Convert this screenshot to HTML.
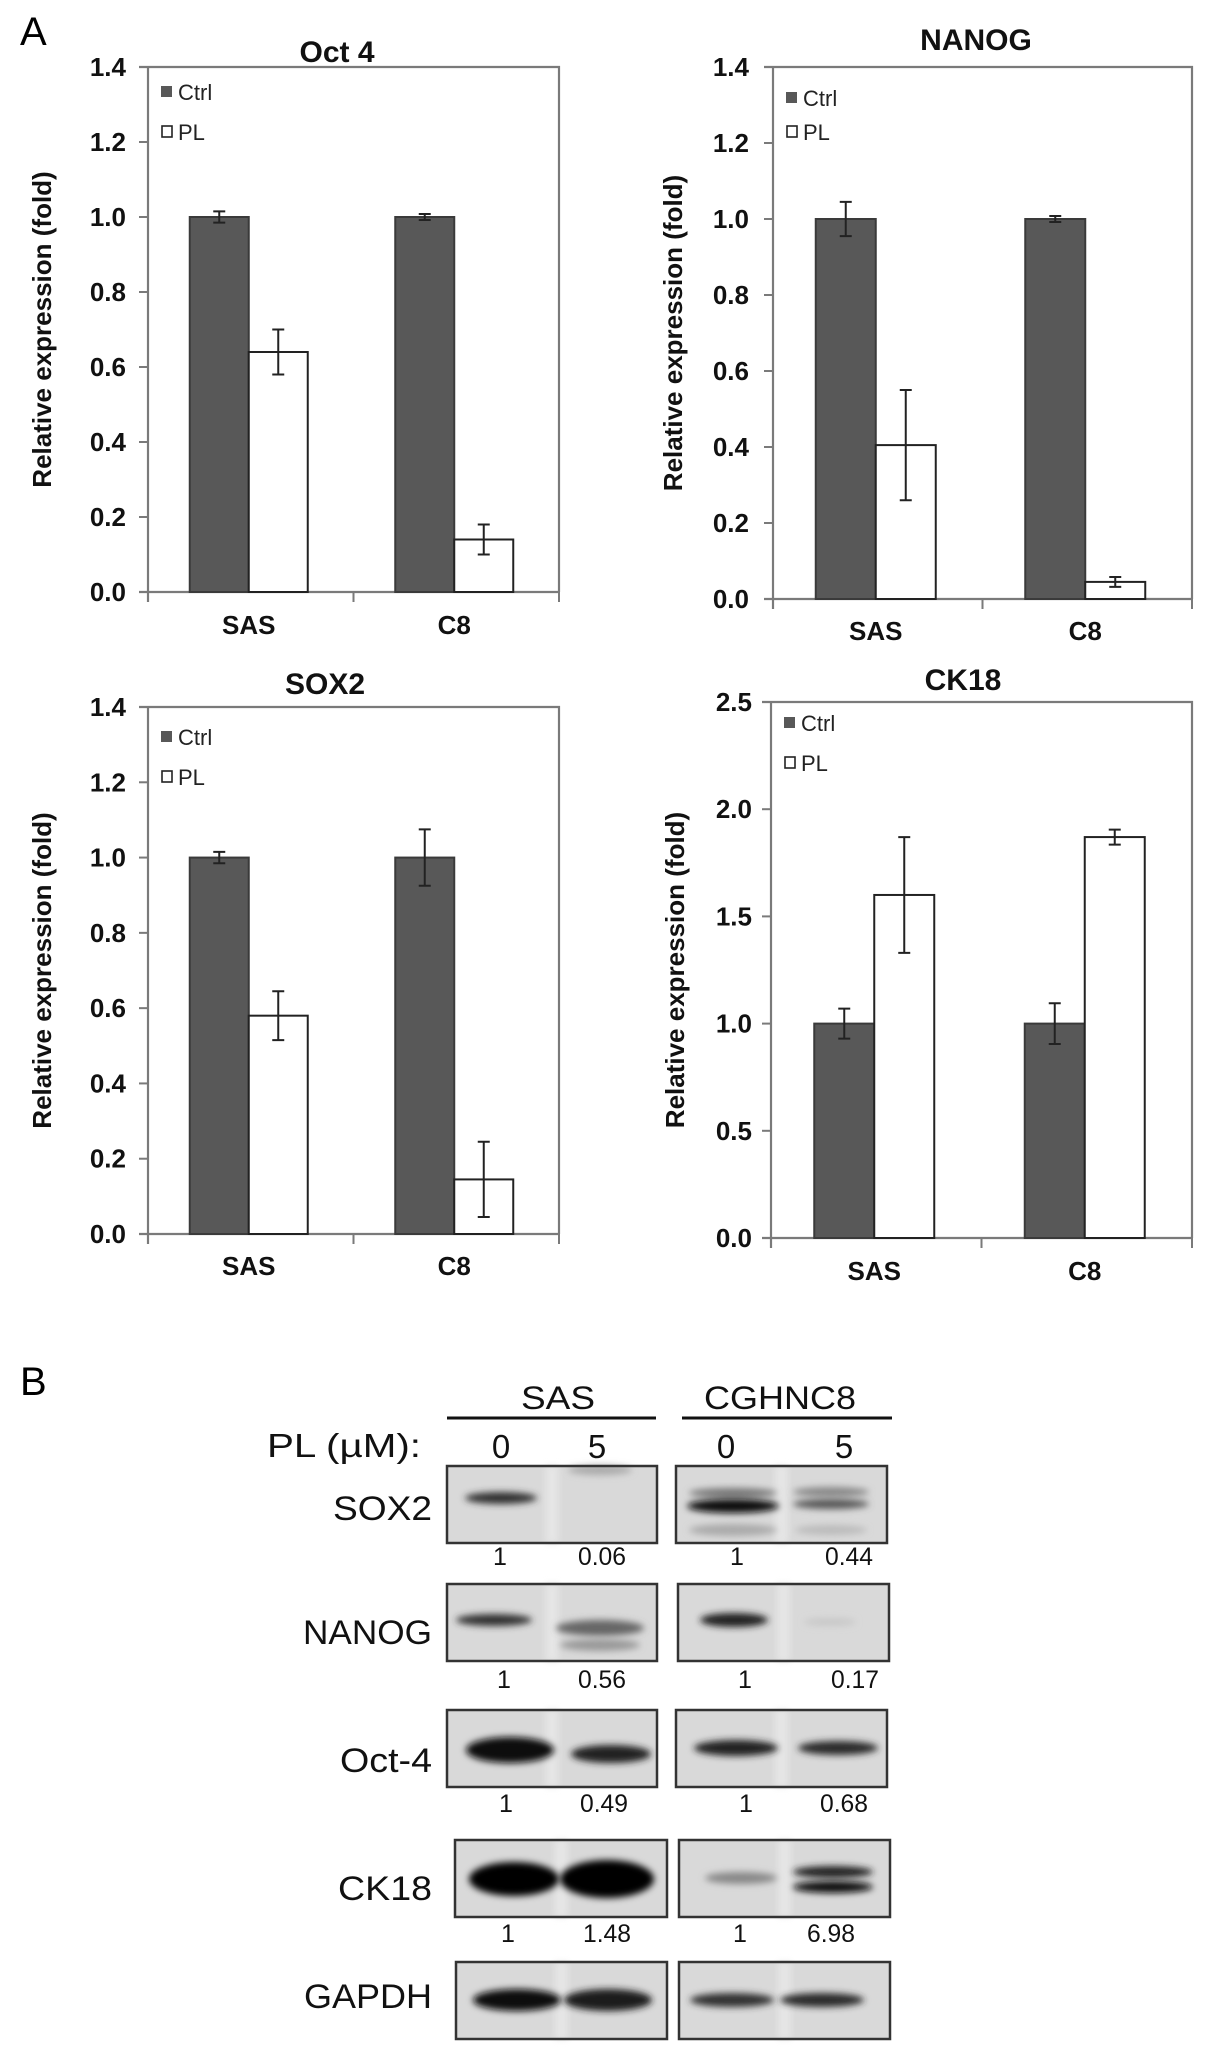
<!DOCTYPE html>
<html><head><meta charset="utf-8">
<style>
html,body{margin:0;padding:0;background:#fff;}
svg{display:block;font-family:"Liberation Sans",Arial,sans-serif;}
</style></head>
<body>
<svg id="fig" width="1205" height="2050" viewBox="0 0 1205 2050" xmlns="http://www.w3.org/2000/svg">
<defs>
<filter id="blur4" x="-30%" y="-100%" width="160%" height="300%"><feGaussianBlur stdDeviation="3.5"/></filter>
<filter id="blur2" x="-30%" y="-100%" width="160%" height="300%"><feGaussianBlur stdDeviation="2"/></filter>
</defs>
<text x="20" y="45" font-size="40">A</text>
<text x="20" y="1395" font-size="40">B</text>
<g id="charts"></g>
<g id="blots"></g>
</svg>
<script>
// ---- Chart data ----
const categories = ["SAS", "C8"];
const oct4Ctrl = [1.0, 1.0];
const oct4CtrlErr = [0.015, 0.008];
const oct4PL = [0.64, 0.14];
const oct4PLErr = [0.06, 0.04];
const oct4Ticks = ["0.0","0.2","0.4","0.6","0.8","1.0","1.2","1.4"];

const nanogCtrl = [1.0, 1.0];
const nanogCtrlErr = [0.045, 0.008];
const nanogPL = [0.405, 0.045];
const nanogPLErr = [0.145, 0.013];
const nanogTicks = ["0.0","0.2","0.4","0.6","0.8","1.0","1.2","1.4"];

const sox2Ctrl = [1.0, 1.0];
const sox2CtrlErr = [0.015, 0.075];
const sox2PL = [0.58, 0.145];
const sox2PLErr = [0.065, 0.1];
const sox2Ticks = ["0.0","0.2","0.4","0.6","0.8","1.0","1.2","1.4"];

const ck18Ctrl = [1.0, 1.0];
const ck18CtrlErr = [0.07, 0.095];
const ck18PL = [1.6, 1.87];
const ck18PLErr = [0.27, 0.035];
const ck18Ticks = ["0.0","0.5","1.0","1.5","2.0","2.5"];

const blotProteins = ["SOX2","NANOG","Oct-4","CK18"];
const sasQuant = [["1","0.06"],["1","0.56"],["1","0.49"],["1","1.48"]];
const c8Quant = [["1","0.44"],["1","0.17"],["1","0.68"],["1","6.98"]];

const NS = "http://www.w3.org/2000/svg";
function mk(parent, tag, attrs, text){
  const e = document.createElementNS(NS, tag);
  for (const k in attrs) e.setAttribute(k, attrs[k]);
  if (text !== undefined) e.textContent = text;
  parent.appendChild(e);
  return e;
}

function drawChart(cfg){
  const g = mk(document.getElementById("charts"), "g", {});
  
  
  const L=cfg.left, R=cfg.right, T=cfg.top, B=cfg.bottom;
  const ymax = parseFloat(cfg.ticks[cfg.ticks.length-1]);
  const y = v => B - (v/ymax)*(B-T);
  const axisCol = "#7a7a7a";
  const frame = mk(g, "path", {d:`M${L-9},${T} H${R} V${B} M${L},${T} V${B+10} M${L-9},${B} H${R}`, stroke:axisCol, "stroke-width":2.2, fill:"none"});
  
  
  cfg.ticks.forEach(t => {
    const yy = y(parseFloat(t));
    const tk = mk(g, "line", {x1:L-9, x2:L, y1:yy, y2:yy, stroke:axisCol, "stroke-width":2});
    
    
    const tl = mk(g, "text", {x:cfg.tickRight, y:yy+9, "font-size":26, "font-weight":"bold", "text-anchor":"end", fill:"#111"}, t);
    
    
  });
  const gw = (R-L)/categories.length;
  for (let i=1;i<=categories.length;i++){
    const xx = L + gw*i;
    const xt = mk(g, "line", {x1:xx, x2:xx, y1:B, y2:B+10, stroke:axisCol, "stroke-width":2});
    
    
  }
  const bw = cfg.barW;
  categories.forEach((c, i) => {
    const cx = L + gw*(i+0.5) - 2;
    const series = [
      {v:cfg.ctrl[i], e:cfg.ctrlErr[i], x:cx-bw, fill:"#585858", stroke:"#3a3a3a", name:"bar-ctrl-"+c.toLowerCase()},
      {v:cfg.pl[i], e:cfg.plErr[i], x:cx, fill:"#ffffff", stroke:"#222", name:"bar-pl-"+c.toLowerCase()}
    ];
    series.forEach(s => {
      const r = mk(g, "rect", {x:s.x, y:y(s.v), width:bw, height:B-y(s.v), fill:s.fill, stroke:s.stroke, "stroke-width":2});
      
      
      const ex = s.x + bw/2;
      const eb = mk(g, "path", {d:`M${ex},${y(s.v+s.e)} V${y(s.v-s.e)} M${ex-6},${y(s.v+s.e)} H${ex+6} M${ex-6},${y(s.v-s.e)} H${ex+6}`, stroke:"#222", "stroke-width":2, fill:"none"});
      
      
    });
    const xl = mk(g, "text", {x:cx, y:cfg.xLabelY, "font-size":26, "font-weight":"bold", "text-anchor":"middle", fill:"#111"}, c);
    
    
  });
  const title = mk(g, "text", {x:cfg.titleX, y:cfg.titleY, "font-size":30, "font-weight":"bold", "text-anchor":"middle", fill:"#111"}, cfg.title);
  
  
  const ylab = mk(g, "text", {x:0, y:0, "font-size":26, "font-weight":"bold", "text-anchor":"middle", fill:"#111", transform:`translate(${cfg.yLabelX},${(T+B)/2}) rotate(-90)`}, "Relative expression (fold)");
  
  
  const lx = L + 13;
  const sq1 = mk(g, "rect", {x:lx, y:cfg.legY1-6, width:11, height:11, fill:"#585858"});
  
  
  const lt1 = mk(g, "text", {x:lx+17, y:cfg.legY1+8, "font-size":22, fill:"#222"}, "Ctrl");
  
  
  const sq2 = mk(g, "rect", {x:lx+1, y:cfg.legY2-6, width:10, height:11, fill:"#fff", stroke:"#222", "stroke-width":1.6});
  
  
  const lt2 = mk(g, "text", {x:lx+17, y:cfg.legY2+8, "font-size":22, fill:"#222"}, "PL");
  
  
}

drawChart({name:"chart-oct4", title:"Oct 4", titleX:337, titleY:62, left:148, right:559, top:67, bottom:592, tickRight:126, yLabelX:51, xLabelY:634, barW:59, legY1:92, legY2:132, ticks:oct4Ticks, ctrl:oct4Ctrl, ctrlErr:oct4CtrlErr, pl:oct4PL, plErr:oct4PLErr});
drawChart({name:"chart-nanog", title:"NANOG", titleX:976, titleY:50, left:773, right:1192, top:67, bottom:599, tickRight:749, yLabelX:682, xLabelY:640, barW:60, legY1:98, legY2:132, ticks:nanogTicks, ctrl:nanogCtrl, ctrlErr:nanogCtrlErr, pl:nanogPL, plErr:nanogPLErr});
drawChart({name:"chart-sox2", title:"SOX2", titleX:325, titleY:694, left:148, right:559, top:707, bottom:1234, tickRight:126, yLabelX:51, xLabelY:1275, barW:59, legY1:737, legY2:777, ticks:sox2Ticks, ctrl:sox2Ctrl, ctrlErr:sox2CtrlErr, pl:sox2PL, plErr:sox2PLErr});
drawChart({name:"chart-ck18", title:"CK18", titleX:963, titleY:690, left:771, right:1192, top:702, bottom:1238, tickRight:752, yLabelX:684, xLabelY:1280, barW:60, legY1:723, legY2:763, ticks:ck18Ticks, ctrl:ck18Ctrl, ctrlErr:ck18CtrlErr, pl:ck18PL, plErr:ck18PLErr});

// ---- Western blot panel ----
const bg = document.getElementById("blots");
function txt(x,y,s,size,anchor,name,len){
  const a = {x:x, y:y, "font-size":size, "text-anchor":anchor||"start", fill:"#111"};
  if (len) { a.textLength = len; a.lengthAdjust = "spacingAndGlyphs"; }
  const t = mk(bg, "text", a, s);
  
  
  return t;
}
txt(558,1409,"SAS",32,"middle","cell-line-sas",74);
txt(780,1409,"CGHNC8",32,"middle","cell-line-cghnc8",152);
const l1 = mk(bg,"line",{x1:447,x2:656,y1:1418,y2:1418,stroke:"#111","stroke-width":3});


const l2 = mk(bg,"line",{x1:682,x2:892,y1:1418,y2:1418,stroke:"#111","stroke-width":3});


txt(267,1457,"PL  (\u00b5M):",33,"start","dose-label",154);
txt(501,1458,"0",33,"middle","dose-0-sas");
txt(597,1458,"5",33,"middle","dose-5-sas");
txt(726,1458,"0",33,"middle","dose-0-c8");
txt(844,1458,"5",33,"middle","dose-5-c8");

function blotBox(x,y,w,h,name,bands){
  const g = mk(bg,"g",{});
  
  
  mk(g,"rect",{x:x,y:y,width:w,height:h,fill:"#d9d9d9"});
  mk(g,"rect",{x:x+w*0.47,y:y,width:w*0.06,height:h,fill:"#e6e6e6",filter:"url(#blur4)"});
  bands.forEach(b=>{
    const e = mk(g,"ellipse",{cx:b[0],cy:b[1],rx:b[2],ry:b[3],fill:b[4],filter:"url(#blur4)"});
    
    
  });
  mk(g,"rect",{x:x,y:y,width:w,height:h,fill:"none",stroke:"#333","stroke-width":2.5});
}
blotBox(447,1466,210,77,"blot-sox2-sas",[[501,1498,36,6,"#333"],[600,1470,32,5,"#aaa"]]);
blotBox(676,1466,211,77,"blot-sox2-c8",[[733,1493,44,5,"#777"],[733,1506,46,7,"#111"],[733,1530,44,6,"#aaa"],[831,1492,38,5,"#888"],[831,1504,38,5,"#555"],[831,1530,36,5,"#bbb"]]);
blotBox(447,1584,210,77,"blot-nanog-sas",[[494,1620,38,6,"#333"],[600,1628,44,8,"#666"],[600,1645,40,6,"#999"]]);
blotBox(678,1584,211,77,"blot-nanog-c8",[[734,1620,34,7,"#222"],[830,1622,26,4,"#c8c8c8"]]);
blotBox(447,1710,210,77,"blot-oct4-sas",[[510,1750,44,13,"#111"],[611,1754,40,9,"#222"]]);
blotBox(676,1710,211,77,"blot-oct4-c8",[[736,1748,42,8,"#222"],[838,1748,40,7,"#2a2a2a"]]);
blotBox(455,1840,212,77,"blot-ck18-sas",[[514,1879,45,17,"#000"],[607,1879,47,19,"#000"]]);
blotBox(679,1840,211,77,"blot-ck18-c8",[[741,1878,36,6,"#888"],[833,1872,40,6,"#222"],[833,1887,40,6,"#111"]]);
blotBox(456,1962,211,77,"blot-gapdh-sas",[[517,2000,44,11,"#111"],[608,2000,44,11,"#1a1a1a"]]);
blotBox(679,1962,211,77,"blot-gapdh-c8",[[732,2000,42,7,"#333"],[822,2000,42,7,"#2a2a2a"]]);

const labY = [1520,1644,1772,1900];
const labLen = [99,129,92,94];
blotProteins.forEach((p,i)=>{
  txt(432,labY[i],p,34,"end","protein-label-"+p.toLowerCase(), labLen[i]);
});
txt(432,2008,"GAPDH",34,"end","protein-label-gapdh",128);

const qY = [1565,1688,1812,1942];
const qX = [[500,602],[737,849],[504,602],[745,855],[506,604],[746,844],[508,607],[740,831]];
blotProteins.forEach((p,i)=>{
  txt(qX[i*2][0],qY[i],sasQuant[i][0],25,"middle","quant-sas-ctrl");
  txt(qX[i*2][1],qY[i],sasQuant[i][1],25,"middle","quant-sas-pl",48);
  txt(qX[i*2+1][0],qY[i],c8Quant[i][0],25,"middle","quant-c8-ctrl");
  txt(qX[i*2+1][1],qY[i],c8Quant[i][1],25,"middle","quant-c8-pl",48);
});
</script>
</body></html>
